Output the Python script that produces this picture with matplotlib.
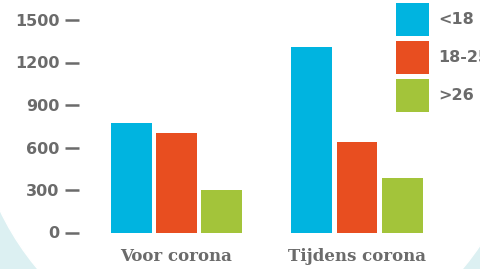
import numpy as np
import matplotlib
matplotlib.use("Agg")
import matplotlib.pyplot as plt
from matplotlib.patches import Circle

groups = ["Voor corona", "Tijdens corona"]
ages = ["<18", "18-25", ">26"]
under18 = [770, 1310]
age18_25 = [700, 640]
over26 = [300, 385]
colors = ["#00b4e0", "#e84e20", "#a3c43a"]
yticks = [0, 300, 600, 900, 1200, 1500]

W, H = 481, 269
fig = plt.figure(figsize=(W / 100, H / 100), dpi=100)
fig.patch.set_facecolor("#dcf0f2")

# grote witte cirkel op de achtergrond
bg = fig.add_axes([0, 0, 1, 1], zorder=0)
bg.set_xlim(0, W)
bg.set_ylim(H, 0)
bg.axis("off")
bg.add_patch(Circle((250, 91), 277, color="white"))

grey = "#6b6b6b"
ax = fig.add_axes([79 / W, 36.5 / H, 1 - 79 / W, (232.5 - 20) / H], zorder=1)
ax.patch.set_alpha(0)

x = np.arange(len(groups))
step = 0.252
width = 0.227
for i, (vals, lab) in enumerate(zip([under18, age18_25, over26], ages)):
    ax.bar(x + (i - 1) * step, vals, width, color=colors[i], label=lab)

ax.set_xlim((79 - 176.5) / 180.5, (481 - 176.5) / 180.5)
ax.set_ylim(0, 1500)
ax.set_yticks(yticks)
ax.set_xticks(x)
ax.set_xticklabels(groups, family="DejaVu Serif", fontsize=12, color=grey, weight="bold")
for s in ax.spines.values():
    s.set_visible(False)
ax.tick_params(axis="y", length=10, width=1.8, color=grey, pad=4, labelsize=11.5, labelcolor=grey)
ax.tick_params(axis="x", length=0, pad=11)
for t in ax.get_yticklabels():
    t.set_fontweight("semibold")

leg = ax.legend(loc="upper left", bbox_to_anchor=(396 / W, 1 - 3 / H), bbox_transform=fig.transFigure,
                frameon=False, fontsize=11.5, handlelength=2.06, handleheight=2.8,
                labelspacing=0.31, handletextpad=0.56, borderpad=0, borderaxespad=0)
for t in leg.get_texts():
    t.set_color(grey)
    t.set_fontweight("semibold")

fig.savefig("out.png", dpi=100)
